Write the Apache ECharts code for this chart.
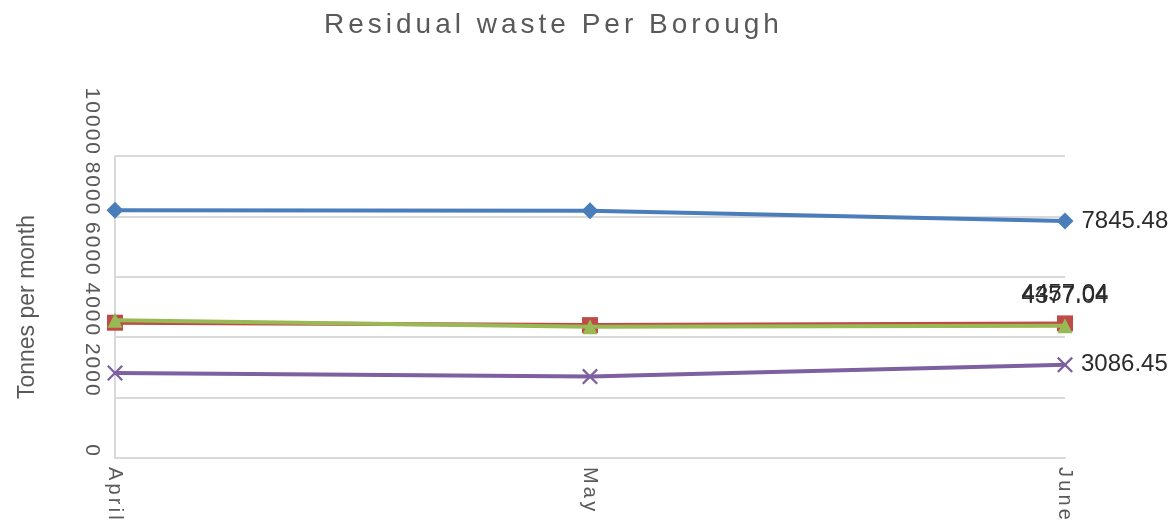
<!DOCTYPE html>
<html>
<head>
<meta charset="utf-8">
<script src="https://cdn.jsdelivr.net/npm/echarts@6/dist/echarts.min.js"></script>
<style>html,body{margin:0;padding:0;background:#fff}#c{width:1176px;height:526px}</style>
</head>
<body>
<div id="c"></div>
<script>
var titleText = 'Residual waste Per Borough';
var yAxisTitle = 'Tonnes per month';
var months = ['April', 'May', 'June'];
var seriesNames = ['Series A', 'Series B', 'Series C', 'Series D'];
var blueValues = [8200, 8185, 7845.48];
var redValues = [4480, 4400, 4457.04];
var greenValues = [4560, 4350, 4377.04];
var purpleValues = [2815, 2695, 3086.45];
var yTicks = [0, 2000, 4000, 6000, 8000, 10000];

// letter spacing per font size (canvas letterSpacing; ECharts has no letterSpacing option)
var spacingBySize = { '28': '4px', '20': '3.2px', '21': '2px' };
(function () {
  var proto = CanvasRenderingContext2D.prototype;
  var orig = proto.fillText;
  proto.fillText = function (t, x, y, w) {
    var m = /(\d+(?:\.\d+)?)px/.exec(this.font || '');
    var sp = m && spacingBySize[m[1]] ? spacingBySize[m[1]] : '0px';
    if ('letterSpacing' in this) this.letterSpacing = sp;
    return w === undefined ? orig.call(this, t, x, y) : orig.call(this, t, x, y, w);
  };
})();

var FONT = '"Liberation Sans", Arial, sans-serif';
var xSym = 'path://M0,1L1,0L5,4L9,0L10,1L6,5L10,9L9,10L5,6L1,10L0,9L4,5Z';

function lastLabel(pos, dist) {
  return {
    show: true, position: pos, distance: dist,
    fontFamily: FONT, fontSize: 24, color: '#2b2b2b',
    formatter: function (p) { return p.dataIndex === months.length - 1 ? p.value.toFixed(2) : ''; }
  };
}
function mk(name, data, color, symbol, size, pos, dist, z) {
  return {
    name: name, type: 'line', data: data, z: z,
    symbol: symbol, symbolSize: size, showSymbol: true,
    lineStyle: { color: color, width: 4 },
    itemStyle: { color: color, borderWidth: 0 },
    label: lastLabel(pos, dist),
    emphasis: { disabled: true },
    animation: false
  };
}

var chart = echarts.init(document.getElementById('c'), null, { renderer: 'canvas' });
chart.setOption({
  animation: false,
  title: {
    text: titleText, left: 319, top: 6,
    textStyle: { fontFamily: FONT, fontSize: 28, fontWeight: 'normal', color: '#595959' }
  },
  grid: { left: 115, right: 111, top: 156, bottom: 68, containLabel: false },
  xAxis: {
    type: 'category', data: months, boundaryGap: false,
    axisLine: { show: true, lineStyle: { color: '#d9d9d9', width: 2 } },
    axisTick: { show: false },
    splitLine: { show: false },
    axisLabel: { rotate: -90, margin: 9, fontFamily: FONT, fontSize: 20, color: '#595959' }
  },
  yAxis: {
    type: 'value', min: yTicks[0], max: yTicks[yTicks.length - 1], interval: 2000,
    name: yAxisTitle, nameLocation: 'middle', nameGap: 76, nameRotate: 90,
    nameTextStyle: { fontFamily: FONT, fontSize: 23, color: '#595959' },
    axisLine: { show: true, lineStyle: { color: '#d9d9d9', width: 2 } },
    axisTick: { show: false },
    splitLine: { show: true, lineStyle: { color: '#d9d9d9', width: 2 } },
    axisLabel: {
      rotate: -90, align: 'right', verticalAlign: 'top', margin: 13,
      fontFamily: FONT, fontSize: 21, color: '#595959',
      formatter: function (v) { return String(v); }
    }
  },
  series: [
    mk(seriesNames[0], blueValues, '#4a7ebb', 'diamond', 17, 'right', 8, 4),
    mk(seriesNames[1], redValues, '#be4b48', 'rect', 16, 'top', 9, 2),
    mk(seriesNames[2], greenValues, '#98b954', 'triangle', 15, 'top', 10, 3),
    mk(seriesNames[3], purpleValues, '#7d60a0', xSym, 16, 'right', 8, 1)
  ]
});
</script>
</body>
</html>
